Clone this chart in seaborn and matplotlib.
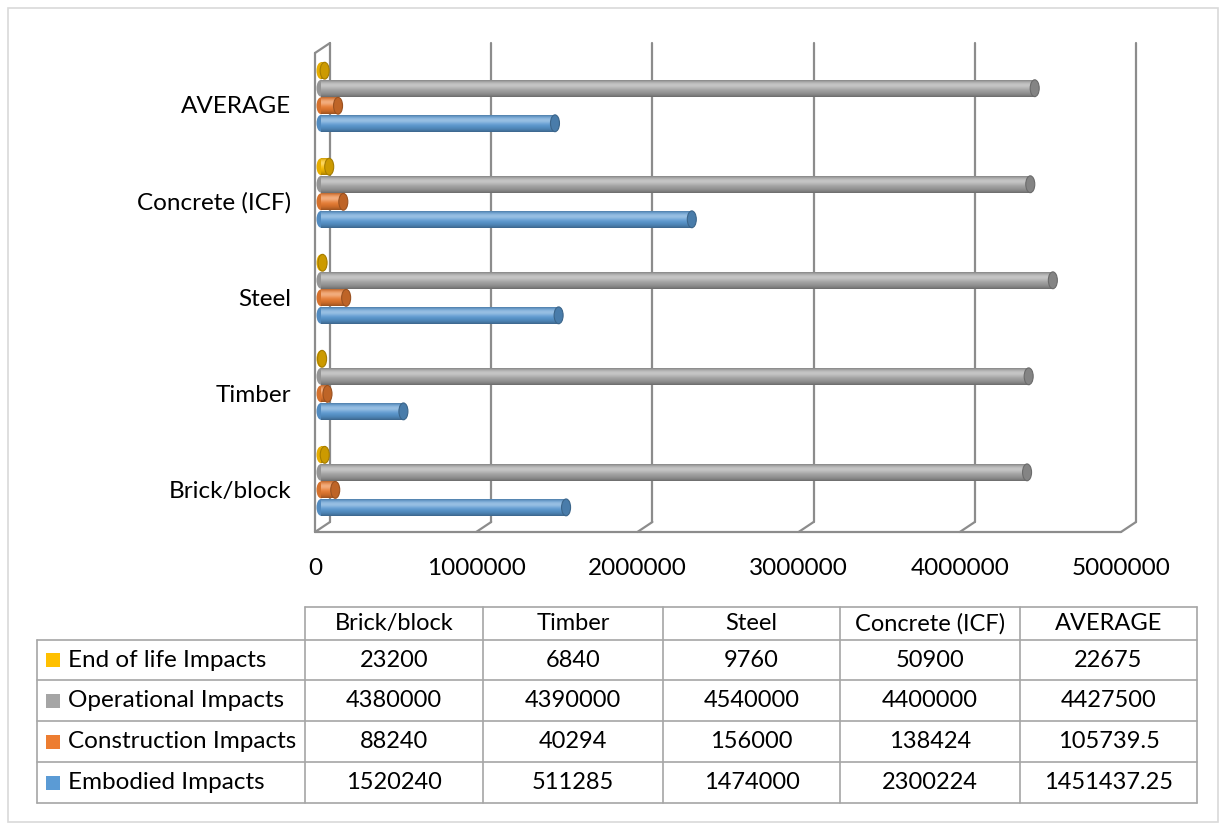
import numpy as np
import pandas as pd
import matplotlib
matplotlib.use("Agg")
import matplotlib.pyplot as plt
import matplotlib.transforms as mtransforms
from matplotlib.patches import Ellipse, Rectangle
from matplotlib.lines import Line2D
import seaborn as sns

categories = ["Brick/block", "Timber", "Steel", "Concrete (ICF)", "AVERAGE"]
series = ["End of life Impacts", "Operational Impacts", "Construction Impacts", "Embodied Impacts"]
end_of_life = [23200, 6840, 9760, 50900, 22675]
operational = [4380000, 4390000, 4540000, 4400000, 4427500]
construction = [88240, 40294, 156000, 138424, 105739.5]
embodied = [1520240, 511285, 1474000, 2300224, 1451437.25]
colors = ["#FFC000", "#A5A5A5", "#ED7D31", "#5B9BD5"]
xticks = [0, 1000000, 2000000, 3000000, 4000000, 5000000]

values = {series[0]: end_of_life, series[1]: operational,
          series[2]: construction, series[3]: embodied}
rows = []
for s in series:
    for c, v in zip(categories, values[s]):
        rows.append({"category": c, "series": s, "value": v})
df = pd.DataFrame(rows)

sns.set_theme(style="white")
plt.rcParams["font.family"] = ["Lato", "DejaVu Sans"]

W, H = 1226, 830
fig = plt.figure(figsize=(W / 100, H / 100), dpi=100)


def fx(px):
    return px / W


def fy(py):
    return 1 - py / H


# plot area (front plane)
ax = fig.add_axes([fx(315), fy(532), (1121 - 315) / W, (532 - 53) / H])
sns.barplot(data=df, y="category", x="value", hue="series", order=categories[::-1],
            hue_order=series, palette=colors, orient="h", width=0.73, gap=0.04,
            legend=False, errorbar=None, saturation=1, ax=ax)
ax.set_xlim(0, 5000000)
ax.set_ylim(4.53, -0.458)
for sp in ax.spines.values():
    sp.set_visible(False)
ax.set_xlabel("")
ax.set_ylabel("")
ax.set_xticks(xticks)
ax.set_xticklabels([str(t) for t in xticks])
ax.tick_params(axis="x", length=0, pad=19, labelsize=17.5, labelcolor="black")
ax.tick_params(axis="y", length=0, pad=17, labelsize=17.5, labelcolor="black")
shift = mtransforms.ScaledTranslation(0, -8 / 100, fig.dpi_scale_trans)
for lab in ax.get_yticklabels():
    lab.set_transform(lab.get_transform() + shift)

# 3D-ish walls and gridlines
wall = "#8c8c8c"
front = mtransforms.blended_transform_factory(ax.transData, ax.transAxes)
back = front + mtransforms.ScaledTranslation(15 / 100, 10 / 100, fig.dpi_scale_trans)
for v in xticks:
    ax.plot([v, v], [0, 1], color=wall, lw=1.6, transform=back, zorder=0.5, clip_on=False)
    p0 = back.transform((v, 0))
    p1 = front.transform((v, 0))
    fig.add_artist(Line2D([p0[0] / fig.bbox.width, p1[0] / fig.bbox.width],
                          [p0[1] / fig.bbox.height, p1[1] / fig.bbox.height],
                          color=wall, lw=1.6))
ax.plot([0, 5000000], [0, 0], color=wall, lw=1.6, transform=front, clip_on=False)
ax.plot([0, 0], [0, 1], color=wall, lw=1.6, transform=front, clip_on=False)
q0 = front.transform((0, 1))
q1 = back.transform((0, 1))
fig.add_artist(Line2D([q0[0] / fig.bbox.width, q1[0] / fig.bbox.width],
                      [q0[1] / fig.bbox.height, q1[1] / fig.bbox.height],
                      color=wall, lw=1.6))

# cylinder shading on the bars, sitting half way into the depth
mid = ax.transData + mtransforms.ScaledTranslation(6 / 100, 0, fig.dpi_scale_trans)
px_per_unit = ax.bbox.width / 5000000
t = np.linspace(0, 1, 64)
light = 0.38 * np.exp(-((t - 0.3) / 0.22) ** 2)
dark = 0.35 * t ** 4 + 0.22 * (1 - t) ** 10
for p in list(ax.patches):
    x0, y0, w, h = p.get_x(), p.get_y(), p.get_width(), p.get_height()
    if h <= 0:
        continue
    base = np.array(p.get_facecolor()[:3])
    shade = base[None, :] * (1 - light[:, None]) + light[:, None]
    shade = shade * (1 - dark[:, None])
    img = shade[:, None, :]
    p.set_visible(False)
    cap_w = 9 / px_per_unit
    left = Ellipse((x0, y0 + h / 2), cap_w, h, facecolor=base * 0.9,
                   edgecolor="none", zorder=1.9)
    ax.add_patch(left)
    left.set_transform(mid)
    im = ax.imshow(img, extent=(x0, x0 + w, y0 + h, y0), aspect="auto",
                   interpolation="bilinear", zorder=2)
    im.set_transform(mid)
    cap = Ellipse((x0 + w, y0 + h / 2), cap_w, h, facecolor=base * 0.8,
                  edgecolor=base * 0.65, lw=0.8, zorder=3)
    ax.add_patch(cap)
    cap.set_transform(mid)
ax.set_xlim(0, 5000000)
ax.set_ylim(4.53, -0.458)

# data table under the chart
line_c = "#a6a6a6"
col_x = [37, 305, 483, 663, 840, 1020, 1197]
row_y = [607, 640, 680, 721, 762, 803]


def hline(y, xa, xb):
    fig.add_artist(Line2D([fx(xa), fx(xb)], [fy(y), fy(y)], color=line_c, lw=1.2))


def vline(x, ya, yb):
    fig.add_artist(Line2D([fx(x), fx(x)], [fy(ya), fy(yb)], color=line_c, lw=1.2))


hline(row_y[0], col_x[1], col_x[-1])
for y in row_y[1:]:
    hline(y, col_x[0], col_x[-1])
vline(col_x[0], row_y[1], row_y[-1])
for x in col_x[1:]:
    vline(x, row_y[0], row_y[-1])

for i, c in enumerate(categories):
    cx = (col_x[i + 1] + col_x[i + 2]) / 2
    fig.text(fx(cx), fy((row_y[0] + row_y[1]) / 2), c, ha="center", va="center",
             fontsize=17, color="black")


def fmt(v):
    return str(int(v)) if float(v).is_integer() else str(v)


for r, s in enumerate(series):
    cy = (row_y[r + 1] + row_y[r + 2]) / 2
    fig.add_artist(Rectangle((fx(46), fy(cy + 7)), 14 / W, 14 / H,
                             facecolor=colors[r], edgecolor="none",
                             transform=fig.transFigure))
    fig.text(fx(68), fy(cy), s, ha="left", va="center", fontsize=17.5, color="black")
    for i, v in enumerate(values[s]):
        cx = (col_x[i + 1] + col_x[i + 2]) / 2
        fig.text(fx(cx), fy(cy), fmt(v), ha="center", va="center",
                 fontsize=17, color="black")

# outer chart border
fig.add_artist(Rectangle((fx(8), fy(822)), (1218 - 8) / W, (822 - 8) / H,
                         facecolor="none", edgecolor="#d9d9d9", lw=1.2,
                         transform=fig.transFigure))

fig.savefig("out.png", dpi=100)
